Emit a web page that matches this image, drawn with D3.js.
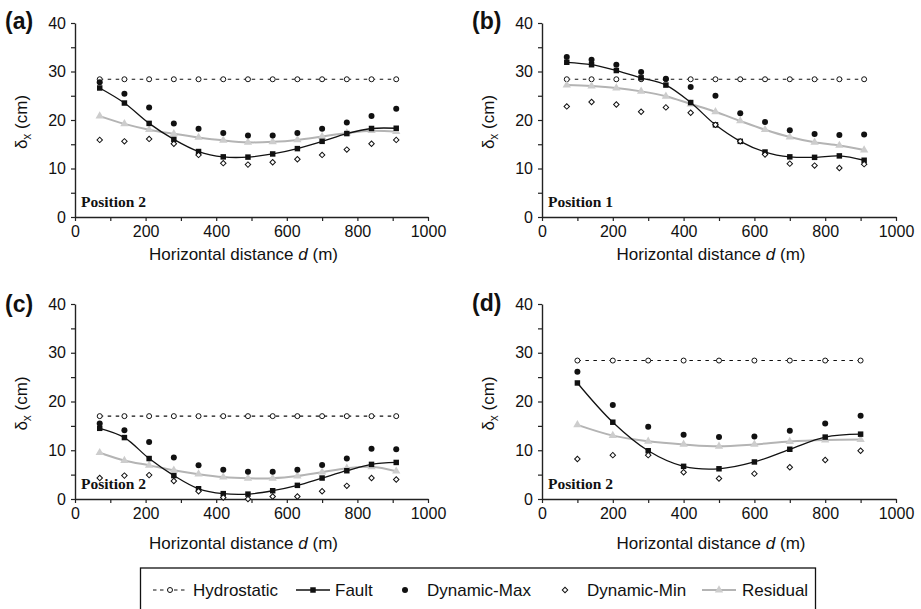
<!DOCTYPE html>
<html>
<head>
<meta charset="utf-8">
<script src="https://cdn.jsdelivr.net/npm/d3@7"></script>
<style>
    body { margin: 0; background: #fff; }
    svg { display: block; font-family: "Liberation Sans", Arial, sans-serif; }
</style>
</head>
<body>
<div id="chart"></div>
<script>
// distances along the profile (m)
const distance_70 = [70, 140, 210, 280, 350, 420, 490, 560, 630, 700, 770, 840, 910];
const distance_100 = [100, 200, 300, 400, 500, 600, 700, 800, 900];

// panel (a)
const a_hydrostatic = [28.4, 28.4, 28.4, 28.4, 28.4, 28.4, 28.4, 28.4, 28.4, 28.4, 28.4, 28.4, 28.4];
const a_fault = [26.6, 23.5, 19.3, 16.0, 13.5, 12.4, 12.35, 13.0, 14.1, 15.6, 17.2, 18.25, 18.3];
const a_dyn_max = [27.8, 25.4, 22.6, 19.3, 18.2, 17.3, 16.8, 16.8, 17.3, 18.2, 19.5, 20.8, 22.3];
const a_dyn_min = [15.9, 15.6, 16.1, 15.1, 12.8, 11.1, 10.8, 11.3, 11.9, 12.8, 13.9, 15.1, 15.9];
const a_residual = [20.8, 19.2, 18.0, 17.15, 16.4, 15.8, 15.4, 15.5, 15.9, 16.6, 17.3, 17.8, 17.6];

// panel (b)
const b_hydrostatic = [28.4, 28.4, 28.4, 28.4, 28.4, 28.4, 28.4, 28.4, 28.4, 28.4, 28.4, 28.4, 28.4];
const b_fault = [31.9, 31.4, 30.2, 28.7, 27.2, 23.6, 19.0, 15.6, 13.4, 12.4, 12.3, 12.6, 11.7];
const b_dyn_max = [33.0, 32.4, 31.4, 29.9, 28.5, 26.8, 25.0, 21.4, 19.6, 17.9, 17.1, 16.9, 17.0];
const b_dyn_min = [22.8, 23.7, 23.2, 21.7, 22.6, 21.5, 19.0, 15.6, 12.9, 11.0, 10.6, 10.1, 10.9];
const b_residual = [27.2, 27.0, 26.6, 25.9, 24.9, 23.3, 21.7, 19.8, 18.0, 16.5, 15.4, 14.75, 13.8];

// panel (c)
const c_hydrostatic = [17.0, 17.0, 17.0, 17.0, 17.0, 17.0, 17.0, 17.0, 17.0, 17.0, 17.0, 17.0, 17.0];
const c_fault = [14.5, 12.6, 8.3, 4.8, 2.1, 1.1, 1.0, 1.7, 2.8, 4.3, 5.8, 7.1, 7.5];
const c_dyn_max = [15.5, 14.1, 11.7, 8.5, 6.9, 6.0, 5.6, 5.6, 6.0, 7.0, 8.3, 10.3, 10.2];
const c_dyn_min = [4.3, 4.8, 4.9, 3.7, 1.6, 0.3, 0.0, 0.5, 0.5, 1.6, 2.7, 4.3, 4.0];
const c_residual = [9.5, 7.9, 6.9, 5.9, 5.1, 4.5, 4.25, 4.25, 4.7, 5.5, 6.3, 6.6, 5.7];

// panel (d)
const d_hydrostatic = [28.4, 28.4, 28.4, 28.4, 28.4, 28.4, 28.4, 28.4, 28.4];
const d_fault = [23.8, 15.75, 9.9, 6.7, 6.2, 7.6, 10.2, 12.7, 13.3];
const d_dyn_max = [26.1, 19.3, 14.8, 13.2, 12.7, 12.8, 14.0, 15.5, 17.1];
const d_dyn_min = [8.2, 9.0, 9.0, 5.5, 4.2, 5.2, 6.5, 8.0, 9.9];
const d_residual = [15.2, 13.0, 11.85, 11.2, 10.8, 11.2, 11.8, 12.1, 12.2];

const panel_letters = ["(a)", "(b)", "(c)", "(d)"];
const position_labels = ["Position 2", "Position 1", "Position 2", "Position 2"];
const legend_labels = ["Hydrostatic", "Fault", "Dynamic-Max", "Dynamic-Min", "Residual"];

const width = 921;
const height = 609;
const axis_color = "#222";
const residual_line = "#b4b4b4";
const residual_mark = "#cdcdcd";

const svg = d3.select("#chart").append("svg")
    .attr("width", width)
    .attr("height", height);

const panels = [
    {dist: distance_70, hyd: a_hydrostatic, fault: a_fault, max: a_dyn_max, min: a_dyn_min, res: a_residual, left: 75, right: 428, top: 23, bottom: 217, title_gap: 43, letter_gap: 6},
    {dist: distance_70, hyd: b_hydrostatic, fault: b_fault, max: b_dyn_max, min: b_dyn_min, res: b_residual, left: 542, right: 896, top: 23, bottom: 217, title_gap: 43, letter_gap: 6},
    {dist: distance_70, hyd: c_hydrostatic, fault: c_fault, max: c_dyn_max, min: c_dyn_min, res: c_residual, left: 75, right: 428, top: 304, bottom: 499, title_gap: 50, letter_gap: 8},
    {dist: distance_100, hyd: d_hydrostatic, fault: d_fault, max: d_dyn_max, min: d_dyn_min, res: d_residual, left: 542, right: 896, top: 304, bottom: 499, title_gap: 50, letter_gap: 7}
];

const square = d3.symbol().type(d3.symbolSquare).size(30);
const triangle = d3.symbol().type(d3.symbolTriangle).size(30);
// small open diamond = square turned by 45 degrees
const diamond = d3.symbol().type(d3.symbolSquare).size(15);

function draw_panel(p, i) {
    const g = svg.append("g");
    const xScale = d3.scaleLinear().domain([0, 1000]).range([p.left, p.right]);
    const yScale = d3.scaleLinear().domain([0, 40]).range([p.bottom, p.top]);

    // axes
    const xAxis = g.append("g")
        .attr("transform", `translate(0,${p.bottom})`)
        .call(d3.axisBottom(xScale)
            .tickValues(d3.range(0, 1001, 100))
            .tickFormat(d => d % 200 === 0 ? d : "")
            .tickSize(4).tickSizeOuter(0).tickPadding(5));
    const yAxis = g.append("g")
        .attr("transform", `translate(${p.left},0)`)
        .call(d3.axisLeft(yScale)
            .tickValues(d3.range(0, 41, 5))
            .tickFormat(d => d % 10 === 0 ? d : "")
            .tickSize(4).tickSizeOuter(0).tickPadding(5));
    [xAxis, yAxis].forEach(a => {
        a.select(".domain").attr("stroke", axis_color).attr("stroke-width", 1.4);
        a.selectAll(".tick line").attr("stroke", axis_color).attr("stroke-width", 1.2);
        a.selectAll(".tick text").attr("font-size", 16).attr("fill", "#111")
            .attr("font-family", "Liberation Sans, Arial, sans-serif");
    });

    // axis titles
    const xt = g.append("text")
        .attr("x", (p.left + p.right) / 2 - 8)
        .attr("y", p.bottom + p.title_gap)
        .attr("text-anchor", "middle")
        .attr("font-size", 17)
        .attr("fill", "#111");
    xt.append("tspan").text("Horizontal distance ");
    xt.append("tspan").attr("font-style", "italic").text("d");
    xt.append("tspan").text(" (m)");

    const yt = g.append("text")
        .attr("transform", `translate(${p.left - 48},${(p.top + p.bottom) / 2 + 2}) rotate(-90)`)
        .attr("text-anchor", "middle")
        .attr("font-size", 17)
        .attr("fill", "#111");
    yt.append("tspan").text("δ");
    yt.append("tspan").attr("font-size", 12).attr("dy", "0.35em").text("x");
    yt.append("tspan").attr("dy", "-0.25em").text(" (cm)");

    // panel letter and position label
    g.append("text")
        .attr("x", p.left - 70)
        .attr("y", p.top + p.letter_gap)
        .attr("font-size", 23)
        .attr("font-weight", "bold")
        .attr("fill", "#111")
        .text(panel_letters[i]);
    g.append("text")
        .attr("x", p.left + 6)
        .attr("y", p.bottom - 10)
        .attr("font-family", "Liberation Serif, Times New Roman, serif")
        .attr("font-size", 15.5)
        .attr("font-weight", "bold")
        .attr("fill", "#111")
        .text(position_labels[i]);

    const pts = key => p.dist.map((d, j) => [d, p[key][j]]);
    const line = d3.line()
        .x(d => xScale(d[0]))
        .y(d => yScale(d[1]))
        .curve(d3.curveCatmullRom.alpha(0.5));

    // hydrostatic: dashed line with open circles
    g.append("path")
        .attr("d", d3.line().x(d => xScale(d[0])).y(d => yScale(d[1]))(pts("hyd")))
        .attr("fill", "none")
        .attr("stroke", "#111")
        .attr("stroke-width", 1.1)
        .attr("stroke-dasharray", "3.5,4.5");
    g.selectAll(".hyd").data(pts("hyd")).join("circle")
        .attr("cx", d => xScale(d[0]))
        .attr("cy", d => yScale(d[1]))
        .attr("r", 2.5)
        .attr("fill", "#fff")
        .attr("stroke", "#111")
        .attr("stroke-width", 1);

    // residual: gray smooth line with triangles
    g.append("path")
        .attr("d", line(pts("res")))
        .attr("fill", "none")
        .attr("stroke", residual_line)
        .attr("stroke-width", 2);
    g.selectAll(".res").data(pts("res")).join("path")
        .attr("d", triangle)
        .attr("transform", d => `translate(${xScale(d[0])},${yScale(d[1])})`)
        .attr("fill", residual_mark);

    // fault: black line with squares
    g.append("path")
        .attr("d", line(pts("fault")))
        .attr("fill", "none")
        .attr("stroke", "#111")
        .attr("stroke-width", 1.3);
    g.selectAll(".fault").data(pts("fault")).join("path")
        .attr("d", square)
        .attr("transform", d => `translate(${xScale(d[0])},${yScale(d[1])})`)
        .attr("fill", "#111");

    // dynamic max: filled circles
    g.selectAll(".dmax").data(pts("max")).join("circle")
        .attr("cx", d => xScale(d[0]))
        .attr("cy", d => yScale(d[1]))
        .attr("r", 3)
        .attr("fill", "#111");

    // dynamic min: open diamonds
    g.selectAll(".dmin").data(pts("min")).join("path")
        .attr("d", diamond)
        .attr("transform", d => `translate(${xScale(d[0])},${yScale(d[1])}) rotate(45)`)
        .attr("fill", "#fff")
        .attr("stroke", "#111")
        .attr("stroke-width", 1);
}

panels.forEach(draw_panel);

// legend
const legend = svg.append("g");
const legend_top = 568;
const legend_y = 590;
legend.append("rect")
    .attr("x", 140.5)
    .attr("y", legend_top)
    .attr("width", 675)
    .attr("height", 46)
    .attr("fill", "none")
    .attr("stroke", "#111")
    .attr("stroke-width", 1.3);

// symbol centres and text starts
const legend_symbol_x = [170, 313, 405, 565, 719];
const legend_text_x = [193, 335, 427, 587, 742];

legend_labels.forEach((label, i) => {
    const cx = legend_symbol_x[i];
    if (i === 0) {
        legend.append("line")
            .attr("x1", cx - 17).attr("x2", cx + 17)
            .attr("y1", legend_y).attr("y2", legend_y)
            .attr("stroke", "#111").attr("stroke-width", 1.1)
            .attr("stroke-dasharray", "3.5,3.5");
        legend.append("circle").attr("cx", cx).attr("cy", legend_y).attr("r", 2.5)
            .attr("fill", "#fff").attr("stroke", "#111");
    } else if (i === 1) {
        legend.append("line")
            .attr("x1", cx - 17).attr("x2", cx + 17)
            .attr("y1", legend_y).attr("y2", legend_y)
            .attr("stroke", "#111").attr("stroke-width", 1.3);
        legend.append("path").attr("d", square)
            .attr("transform", `translate(${cx},${legend_y})`).attr("fill", "#111");
    } else if (i === 2) {
        legend.append("circle").attr("cx", cx).attr("cy", legend_y).attr("r", 3).attr("fill", "#111");
    } else if (i === 3) {
        legend.append("path").attr("d", diamond)
            .attr("transform", `translate(${cx},${legend_y}) rotate(45)`)
            .attr("fill", "#fff").attr("stroke", "#111");
    } else {
        legend.append("line")
            .attr("x1", cx - 17).attr("x2", cx + 17)
            .attr("y1", legend_y).attr("y2", legend_y)
            .attr("stroke", residual_line).attr("stroke-width", 2);
        legend.append("path").attr("d", triangle)
            .attr("transform", `translate(${cx},${legend_y})`).attr("fill", residual_mark);
    }
    legend.append("text")
        .attr("x", legend_text_x[i])
        .attr("y", legend_y + 6)
        .attr("font-size", 17)
        .attr("fill", "#111")
        .text(label);
});
</script>
</body>
</html>
